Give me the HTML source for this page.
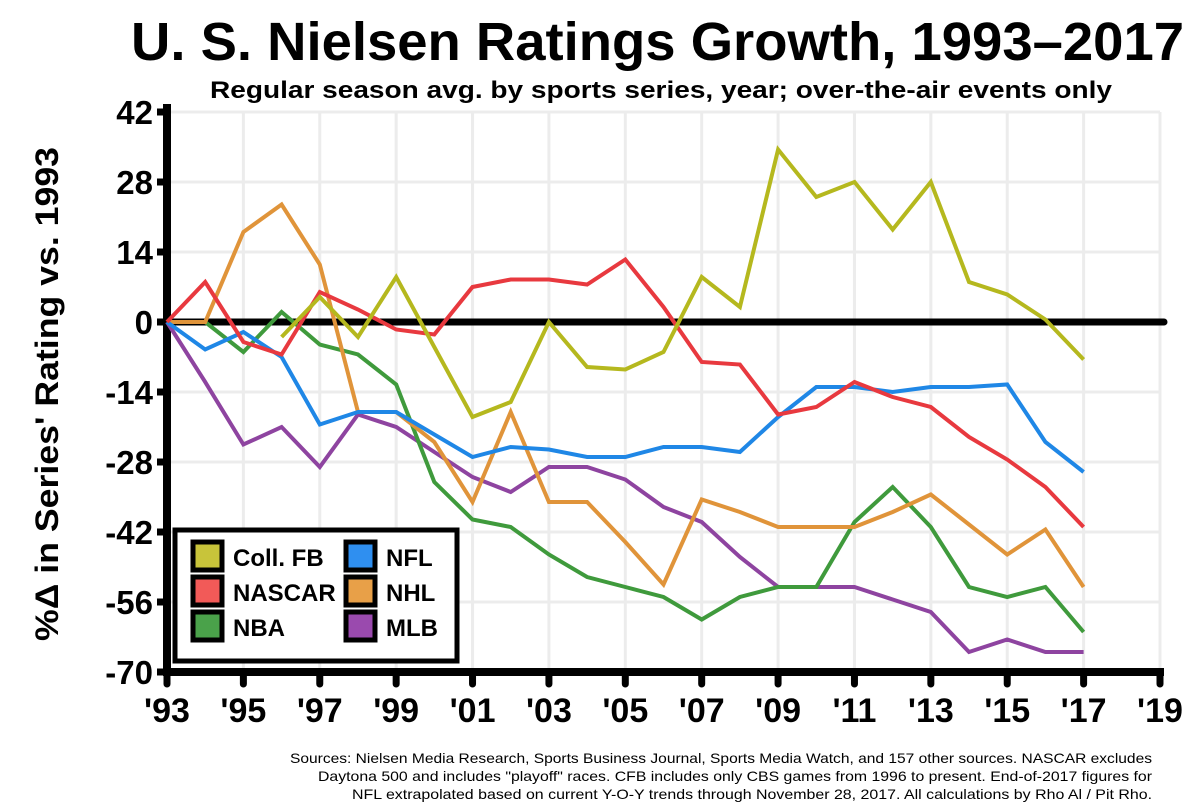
<!DOCTYPE html>
<html><head><meta charset="utf-8"><style>
html,body{margin:0;padding:0;background:#fff;}
svg{display:block;font-family:"Liberation Sans",Arial,sans-serif;}
</style></head><body>
<svg id="chart" width="1200" height="810" viewBox="0 0 1200 810">
<text x="131" y="60" textLength="1053" lengthAdjust="spacingAndGlyphs" font-size="54" font-weight="bold">U. S. Nielsen Ratings Growth, 1993–2017</text>
<text x="210" y="98" textLength="902" lengthAdjust="spacingAndGlyphs" font-size="24" font-weight="bold">Regular season avg. by sports series, year; over-the-air events only</text>
<g id="grid"></g>
<g id="yticks"></g>
<g id="xticks"></g>
<g id="series"></g>
<text transform="translate(58,394) rotate(-90)" text-anchor="middle" textLength="494" lengthAdjust="spacingAndGlyphs" font-size="32" font-weight="bold">%Δ in Series' Rating vs. 1993</text>
<g id="legend"></g>
<g font-size="14">
<text x="290" y="763" textLength="862" lengthAdjust="spacingAndGlyphs">Sources: Nielsen Media Research, Sports Business Journal, Sports Media Watch, and 157 other sources. NASCAR excludes</text>
<text x="318" y="781" textLength="834" lengthAdjust="spacingAndGlyphs">Daytona 500 and includes "playoff" races. CFB includes only CBS games from 1996 to present. End-of-2017 figures for</text>
<text x="352" y="799" textLength="800" lengthAdjust="spacingAndGlyphs">NFL extrapolated based on current Y-O-Y trends through November 28, 2017. All calculations by Rho Al / Pit Rho.</text>
</g>
</svg>
<script>
const yTicks=[42,28,14,0,-14,-28,-42,-56,-70];
const xTickYears=[1993,1995,1997,1999,2001,2003,2005,2007,2009,2011,2013,2015,2017,2019];
const collfbYears=[1996,1997,1998,1999,2000,2001,2002,2003,2004,2005,2006,2007,2008,2009,2010,2011,2012,2013,2014,2015,2016,2017];
const collfb=[-3,5,-3,9,-5,-19,-16,0,-9,-9.5,-6,9,3,34.5,25,28,18.5,28,8,5.5,0.5,-7.5];
const fullYears=[1993,1994,1995,1996,1997,1998,1999,2000,2001,2002,2003,2004,2005,2006,2007,2008,2009,2010,2011,2012,2013,2014,2015,2016,2017];
const nascar=[0,8,-4,-6.5,6,2.5,-1.5,-2.5,7,8.5,8.5,7.5,12.5,3,-8,-8.5,-18.5,-17,-12,-15,-17,-23,-27.5,-33,-41];
const nba=[0,0,-6,2,-4.5,-6.5,-12.5,-32,-39.5,-41,-46.5,-51,-53,-55,-59.5,-55,-53,-53,-40,-33,-41,-53,-55,-53,-62];
const nfl=[0,-5.5,-2,-7,-20.5,-18,-18,-22.5,-27,-25,-25.5,-27,-27,-25,-25,-26,-19,-13,-13,-14,-13,-13,-12.5,-24,-30];
const nhl=[0,0,18,23.5,11.5,-18,-18,-24,-36,-18,-36,-36,-44,-52.5,-35.5,-38,-41,-41,-41,-38,-34.5,-40.5,-46.5,-41.5,-53];
const mlb=[0,-12,-24.5,-21,-29,-18.5,-21,-26,-31,-34,-29,-29,-31.5,-37,-40,-47,-53,-53,-53,-55.5,-58,-66,-63.5,-66,-66];

const NS='http://www.w3.org/2000/svg';
const X0=167,X1=1160,Y0=112,Y1=672;
const xs=yr=>X0+(yr-1993)*(X1-X0)/26;
const ys=v=>Y0+(42-v)*(Y1-Y0)/112;
function mk(tag,attrs,parent){const e=document.createElementNS(NS,tag);for(const k in attrs)e.setAttribute(k,attrs[k]);parent.appendChild(e);return e;}
const grid=document.getElementById('grid'),yt=document.getElementById('yticks'),xt=document.getElementById('xticks'),sg=document.getElementById('series'),lg=document.getElementById('legend');
yTicks.forEach(v=>{
  const l=mk('line',{x1:X0,x2:X1,y1:ys(v),y2:ys(v),stroke:'#ececec','stroke-width':3},grid);
  
  
  const tk=mk('line',{x1:X0-10,x2:X0,y1:ys(v),y2:ys(v),stroke:'#000','stroke-width':7},yt);
  
  
  const t=mk('text',{x:X0-14,y:ys(v)+12,'text-anchor':'end','font-size':33,'font-weight':'bold'},yt);
  t.textContent=v;
  
  
});
xTickYears.forEach(yr=>{
  const l=mk('line',{x1:xs(yr),x2:xs(yr),y1:Y0,y2:Y1,stroke:'#ececec','stroke-width':3},grid);
  
  
  const tk=mk('line',{x1:xs(yr),x2:xs(yr),y1:Y1,y2:Y1+12,stroke:'#000','stroke-width':7,'stroke-linecap':'round'},xt);
  
  
  const t=mk('text',{x:xs(yr),y:Y1+50,'text-anchor':'middle','font-size':34,'font-weight':'bold'},xt);
  t.textContent="'"+String(yr).slice(2);
  
  
});
const ax=mk('path',{d:`M${X0} ${Y0-8} V${Y1} H${X1+4}`,fill:'none',stroke:'#000','stroke-width':8},yt);


const zl=mk('line',{x1:X0,x2:X1+4,y1:ys(0),y2:ys(0),stroke:'#000','stroke-width':7,'stroke-linecap':'round'},yt);


const series=[
 ['mlb','MLB','#8e44a0',fullYears,mlb],
 ['nba','NBA','#3f9a3c',fullYears,nba],
 ['nhl','NHL','#e0943a',fullYears,nhl],
 ['nfl','NFL','#1f87e6',fullYears,nfl],
 ['nascar','NASCAR','#e8393f',fullYears,nascar],
 ['collfb','Coll. FB','#b5b81e',collfbYears,collfb]];
series.forEach(s=>{
  const d=s[3].map((yr,i)=>(i?'L':'M')+xs(yr).toFixed(1)+' '+ys(s[4][i]).toFixed(1)).join(' ');
  const p=mk('path',{d:d,fill:'none',stroke:s[2],'stroke-width':4,'stroke-linejoin':'miter'},sg);
  
  
});
const lb=mk('rect',{x:175,y:530,width:282,height:131,fill:'#fff',stroke:'#000','stroke-width':5},lg);


const legItems=[['Coll. FB','#c8c43a',0,0],['NASCAR','#f25a58',0,1],['NBA','#4aa24a',0,2],['NFL','#2f8ff0',1,0],['NHL','#e8a048',1,1],['MLB','#9a4aae',1,2]];
legItems.forEach(it=>{
  const bx=193+it[2]*153, by=542+it[3]*35;
  const g=mk('g',{},lg);
  
  
  mk('rect',{x:bx,y:by,width:29,height:28,fill:it[1],stroke:'#000','stroke-width':5},g);
  const t=mk('text',{x:bx+40,y:by+24,'font-size':24,'font-weight':'bold'},g);
  t.textContent=it[0];
});
</script>
</body></html>
